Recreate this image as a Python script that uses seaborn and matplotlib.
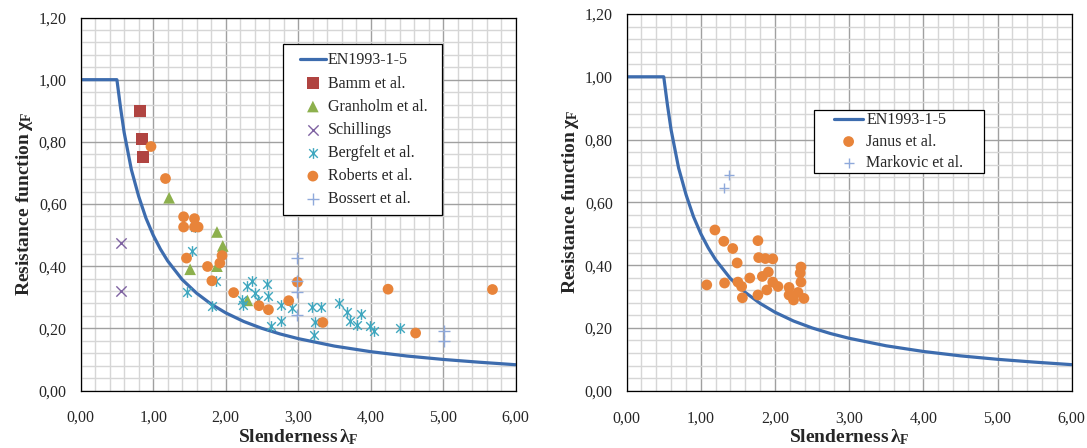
import matplotlib
matplotlib.use("Agg")
import matplotlib.pyplot as plt
from matplotlib.path import Path
from matplotlib.ticker import MultipleLocator, FixedLocator, FixedFormatter
from matplotlib.legend_handler import HandlerLine2D, HandlerPathCollection
from matplotlib.lines import Line2D
from matplotlib.collections import PathCollection
import seaborn as sns

# ---------------- data ----------------
# EN1993-1-5 resistance curve
en_lambda = [0.0, 0.5, 0.55, 0.6, 0.7, 0.8, 0.9, 1.0, 1.1, 1.2, 1.4, 1.6, 1.8, 2.0,
             2.25, 2.5, 2.75, 3.0, 3.5, 4.0, 4.5, 5.0, 5.5, 6.0]
en_chi = [1.0, 1.0, 0.91, 0.83, 0.71, 0.625, 0.555, 0.50, 0.455, 0.417, 0.357, 0.313,
          0.278, 0.25, 0.222, 0.20, 0.182, 0.167, 0.143, 0.125, 0.111, 0.10, 0.091, 0.083]

bamm_x = [0.82, 0.84, 0.86]
bamm_y = [0.90, 0.81, 0.75]

granholm_x = [1.22, 1.88, 1.96, 1.51, 1.88, 2.30]
granholm_y = [0.62, 0.51, 0.465, 0.39, 0.40, 0.29]

schillings_x = [0.55, 0.55]
schillings_y = [0.475, 0.32]

bergfelt_x = [1.54, 1.47, 1.81, 1.87, 1.58, 2.37, 2.30, 2.57, 2.40, 2.59, 2.24, 2.23,
              2.45, 2.77, 2.91, 2.63, 2.76, 3.19, 3.32, 3.23, 3.22, 3.57, 3.68, 3.72,
              3.81, 3.87, 3.99, 4.05, 4.40]
bergfelt_y = [0.448, 0.316, 0.273, 0.353, 0.525, 0.353, 0.335, 0.343, 0.313, 0.305, 0.276,
              0.292, 0.292, 0.276, 0.265, 0.206, 0.225, 0.270, 0.270, 0.220, 0.178, 0.280,
              0.252, 0.225, 0.211, 0.245, 0.206, 0.190, 0.200]

roberts_x = [0.97, 1.17, 1.42, 1.57, 1.42, 1.57, 1.62, 1.46, 1.75, 1.95, 1.92, 1.81,
             2.11, 2.46, 2.59, 2.87, 2.99, 3.34, 4.24, 4.62, 5.68]
roberts_y = [0.785, 0.682, 0.559, 0.553, 0.526, 0.526, 0.526, 0.426, 0.399, 0.434, 0.410,
             0.353, 0.315, 0.273, 0.260, 0.289, 0.349, 0.219, 0.326, 0.185, 0.325]

bossert_x = [2.98, 2.98, 2.98, 2.98, 5.01, 5.01]
bossert_y = [0.426, 0.353, 0.317, 0.244, 0.19, 0.16]

janus_x = [1.19, 1.31, 1.43, 1.49, 1.77, 1.78, 1.87, 1.97, 1.91, 1.83, 1.66, 1.08, 1.32,
           1.50, 1.55, 1.56, 1.77, 1.89, 1.97, 2.04, 2.19, 2.19, 2.25, 2.31, 2.35, 2.34,
           2.35, 2.39]
janus_y = [0.512, 0.476, 0.453, 0.407, 0.478, 0.424, 0.421, 0.420, 0.378, 0.364, 0.359,
           0.337, 0.343, 0.346, 0.332, 0.296, 0.305, 0.321, 0.346, 0.332, 0.329, 0.305,
           0.289, 0.313, 0.394, 0.375, 0.346, 0.294]

markovic_x = [1.31, 1.38]
markovic_y = [0.645, 0.688]

x_ticks = [0, 1, 2, 3, 4, 5, 6]
x_tick_labels = ["0,00", "1,00", "2,00", "3,00", "4,00", "5,00", "6,00"]
y_ticks = [0.0, 0.2, 0.4, 0.6, 0.8, 1.0, 1.2]
y_tick_labels = ["0,00", "0,20", "0,40", "0,60", "0,80", "1,00", "1,20"]

# ---------------- style ----------------
sns.set_style("white")
plt.rcParams["font.family"] = ["Liberation Serif", "DejaVu Serif"]
plt.rcParams["mathtext.fontset"] = "custom"
plt.rcParams["mathtext.rm"] = "Liberation Serif:bold"
plt.rcParams["mathtext.it"] = "Liberation Serif:bold"
plt.rcParams["mathtext.bf"] = "Liberation Serif:bold"

C_LINE = "#3D6CAE"
C_RED = "#B04441"
C_GREEN = "#8DB04D"
C_PURPLE = "#7E62A1"
C_TEAL = "#3FA7BF"
C_ORANGE = "#E8843A"
C_LBLUE = "#8FA9DB"

asterisk = Path([(-1, -1), (1, 1), (-1, 1), (1, -1), (0, -1.25), (0, 1.25)],
                [Path.MOVETO, Path.LINETO, Path.MOVETO, Path.LINETO, Path.MOVETO, Path.LINETO])

fig = plt.figure(figsize=(10.87, 4.48), dpi=100)
axL = fig.add_axes([0.0742, 0.1283, 0.4002, 0.8326])
axR = fig.add_axes([0.5765, 0.1279, 0.4094, 0.8408])


def style(ax):
    ax.set_xlim(0, 6)
    ax.set_ylim(0, 1.2)
    ax.xaxis.set_major_locator(FixedLocator(x_ticks))
    ax.xaxis.set_major_formatter(FixedFormatter(x_tick_labels))
    ax.yaxis.set_major_locator(FixedLocator(y_ticks))
    ax.yaxis.set_major_formatter(FixedFormatter(y_tick_labels))
    ax.xaxis.set_minor_locator(MultipleLocator(0.2))
    ax.yaxis.set_minor_locator(MultipleLocator(0.04))
    ax.grid(which="minor", color="#D6D6D6", lw=1.0)
    ax.grid(which="major", color="#A0A0A0", lw=1.0)
    ax.tick_params(which="minor", length=0)
    ax.tick_params(which="major", length=3.5, width=0.8, direction="out",
                   labelsize=11.5, color="#555555")
    ax.tick_params(axis="x", which="major", pad=10.5)
    ax.tick_params(axis="y", which="major", pad=6.5)
    ax.set_axisbelow(True)
    for s in ax.spines.values():
        s.set_visible(True)
        s.set_color("black")
        s.set_linewidth(0.9)
    ax.set_xlabel(r"$\mathrm{Slenderness}\,\lambda_{\mathrm{F}}$", fontsize=14, labelpad=1)
    ax.set_ylabel(r"$\mathrm{Resistance\ function}\,\chi_{\mathrm{F}}$", fontsize=14, labelpad=3)


def handlers(xpad):
    return {Line2D: HandlerLine2D(xpad=xpad),
            PathCollection: HandlerPathCollection(xpad=xpad)}


# ---------------- left panel ----------------
sns.lineplot(x=en_lambda, y=en_chi, ax=axL, color=C_LINE, lw=2.3, estimator=None,
             sort=False, label="EN1993-1-5", zorder=2)
sns.scatterplot(x=bamm_x, y=bamm_y, ax=axL, marker="s", s=75, color=C_RED,
                edgecolor="none", label="Bamm et al.", zorder=3)
sns.scatterplot(x=granholm_x, y=granholm_y, ax=axL, marker="^", s=70, color=C_GREEN,
                edgecolor="none", label="Granholm et al.", zorder=3)
sns.scatterplot(x=schillings_x, y=schillings_y, ax=axL, marker="x", s=55, color=C_PURPLE,
                linewidth=1.0, label="Schillings", zorder=3)
sns.scatterplot(x=bergfelt_x, y=bergfelt_y, ax=axL, marker=asterisk, s=60, color=C_TEAL,
                edgecolor=C_TEAL, linewidth=1.0, label="Bergfelt et al.", zorder=3)
sns.scatterplot(x=roberts_x, y=roberts_y, ax=axL, marker="o", s=60, color=C_ORANGE,
                edgecolor="none", label="Roberts et al.", zorder=4)
sns.scatterplot(x=bossert_x, y=bossert_y, ax=axL, marker="+", s=75, color=C_LBLUE,
                linewidth=1.0, label="Bossert et al.", zorder=5)
style(axL)
axL.legend(loc="upper left", bbox_to_anchor=(0.4657, 0.928, 0.3655, 0.0), mode="expand",
           borderaxespad=0, fontsize=11.5, frameon=True, fancybox=False,
           edgecolor="black", framealpha=1, handlelength=2.15, handletextpad=0.13,
           labelspacing=0.45, borderpad=0.5, handler_map=handlers(0.56))
axL.get_legend().get_frame().set_linewidth(0.9)

# ---------------- right panel ----------------
sns.lineplot(x=en_lambda, y=en_chi, ax=axR, color=C_LINE, lw=2.3, estimator=None,
             sort=False, label="EN1993-1-5", zorder=2)
sns.scatterplot(x=janus_x, y=janus_y, ax=axR, marker="o", s=60, color=C_ORANGE,
                edgecolor="none", label="Janus et al.", zorder=4)
sns.scatterplot(x=markovic_x, y=markovic_y, ax=axR, marker="+", s=45, color=C_LBLUE,
                linewidth=1.0, label="Markovic et al.", zorder=5)
style(axR)
axR.legend(loc="upper left", bbox_to_anchor=(0.4216, 0.745, 0.3813, 0.0), mode="expand",
           borderaxespad=0, fontsize=11.5, frameon=True, fancybox=False,
           edgecolor="black", framealpha=1, handlelength=2.9, handletextpad=0.2,
           labelspacing=0.33, borderpad=0.15, handler_map=handlers(1.1))
axR.get_legend().get_frame().set_linewidth(0.9)

fig.savefig("out.png", dpi=100)
